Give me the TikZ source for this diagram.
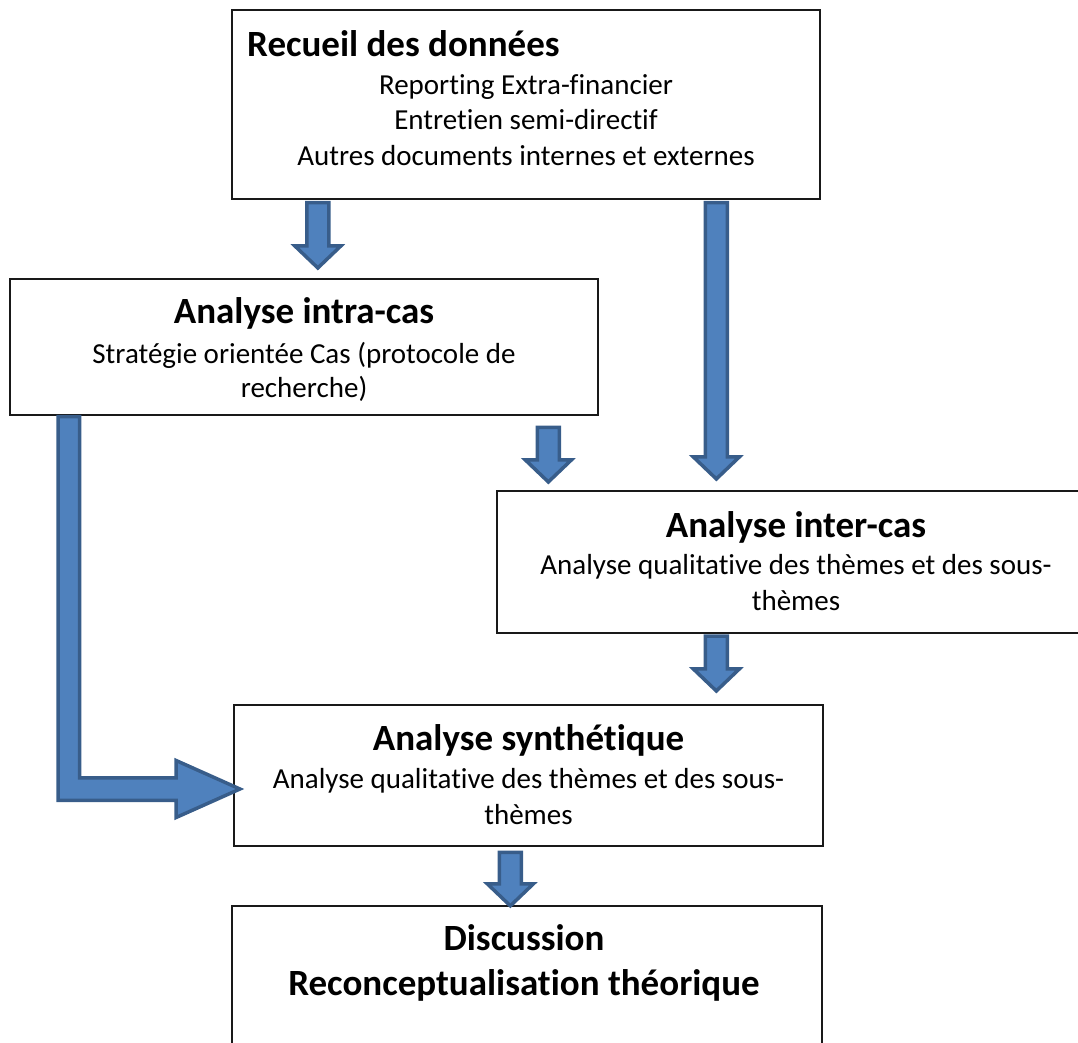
\documentclass[tikz,border=0pt]{standalone}
\usepackage{fontspec}
\setmainfont{Carlito}[Ligatures=NoCommon]
\usetikzlibrary{calc}

\definecolor{arrowfill}{RGB}{79,129,189}
\definecolor{arrowline}{RGB}{56,93,138}

\tikzset{
  box/.style={draw=black!90, line width=1.3pt, fill=white, inner sep=0pt},
  ttl/.style={font=\fontsize{37}{45}\selectfont\bfseries, inner sep=0pt, anchor=base},
  txt/.style={font=\fontsize{29}{35}\selectfont, inner sep=0pt, anchor=base},
  blockarrow/.style={draw=arrowline, fill=arrowfill, line width=3.5pt,
                     line join=miter, miter limit=10},
}

% block arrow pointing down: shaft starts at #1, tip at #2 (same x)
\newcommand\downblock[2]{%
  \draw[blockarrow] let \p1=(#1), \p2=(#2) in
    (\x1-11pt,\y1) -- (\x1-11pt,\y2+22pt) -- (\x1-23pt,\y2+22pt) -- (\x1,\y2)
    -- (\x1+23pt,\y2+22pt) -- (\x1+11pt,\y2+22pt) -- (\x1+11pt,\y1) -- cycle;}

\begin{document}
\begin{tikzpicture}[x=1pt,y=-1pt]
\useasboundingbox (0,0) rectangle (1078,1043);
\clip (0,0) rectangle (1078,1043);

% boxes
\node[box, minimum width=588, minimum height=189] (rec)   at (526,104.5) {};
\node[box, minimum width=588, minimum height=136] (intra) at (304,347) {};
\node[box, minimum width=598, minimum height=142] (inter) at (796,562) {};
\node[box, minimum width=589, minimum height=141] (synth) at (528.5,775.5) {};
\node[box, minimum width=590, minimum height=154] (disc)  at (527,983) {};

% texts
\node[ttl, anchor=base west] (recT) at (247,57) {Recueil des données};
\node[txt] (recA) at (526,94.6)  {Reporting Extra-financier};
\node[txt] (recB) at (526,130)   {Entretien semi-directif};
\node[txt] (recC) at (526,165.4) {Autres documents internes et externes};

\node[ttl] (intraT) at (304,323) {Analyse intra-cas};
\node[txt] (intraA) at (304,363.5) {Stratégie orientée Cas (protocole de};
\node[txt] (intraB) at (304,397.5) {recherche)};

\node[ttl] (interT) at (796,537.5) {Analyse inter-cas};
\node[txt] (interA) at (796,574.5) {Analyse qualitative des thèmes et des sous-};
\node[txt] (interB) at (796,610)   {thèmes};

\node[ttl] (synthT) at (528.5,750)   {Analyse synthétique};
\node[txt] (synthA) at (528.5,788.5) {Analyse qualitative des thèmes et des sous-};
\node[txt] (synthB) at (528.5,824)   {thèmes};

\node[ttl] (discT) at (524,950) {Discussion};
\node[ttl] (discU) at (524,995) {Reconceptualisation théorique};

% arrow end points
\coordinate (a1s) at ([xshift=86.5pt,yshift=-3pt]rec.south west);
\coordinate (a1t) at ([yshift=10.4pt]a1s |- intra.north);
\coordinate (a2s) at ([xshift=485pt,yshift=-3pt]rec.south west);
\coordinate (a2t) at ([yshift=11.4pt]a2s |- inter.north);
\coordinate (a3s) at ([xshift=539pt,yshift=-11.75pt]intra.south west);
\coordinate (a3t) at ([yshift=8.4pt]a3s |- inter.north);
\coordinate (a5s) at ([xshift=220pt,yshift=-2.5pt]inter.south west);
\coordinate (a5t) at ([yshift=13.4pt]a5s |- synth.north);
\coordinate (a6s) at ([xshift=277pt,yshift=-5.75pt]synth.south west);
\coordinate (a6t) at ([yshift=-0.5pt]a6s |- disc.north);
\coordinate (lstart) at ([xshift=59.5pt,yshift=-1pt]intra.south west);
\coordinate (ltip)   at ([xshift=6.6pt,yshift=-13.5pt]synth.west);

% block arrows
\downblock{a1s}{a1t}
\downblock{a2s}{a2t}
\downblock{a3s}{a3t}
\downblock{a5s}{a5t}
\downblock{a6s}{a6t}

% bent arrow from the intra-case box to the synthesis box
\draw[blockarrow] let \p1=(lstart), \p2=(ltip) in
  (\x1-10.75pt,\y1) -- (\x1-10.75pt,\y2-11.25pt) -- (\x2-63.85pt,\y2-11.25pt)
  -- (\x2-63.85pt,\y2-28.5pt) -- (\p2) -- (\x2-63.85pt,\y2+28.5pt)
  -- (\x2-63.85pt,\y2+11.25pt) -- (\x1+10.75pt,\y2+11.25pt)
  -- (\x1+10.75pt,\y1) -- cycle;
\end{tikzpicture}
\end{document}
